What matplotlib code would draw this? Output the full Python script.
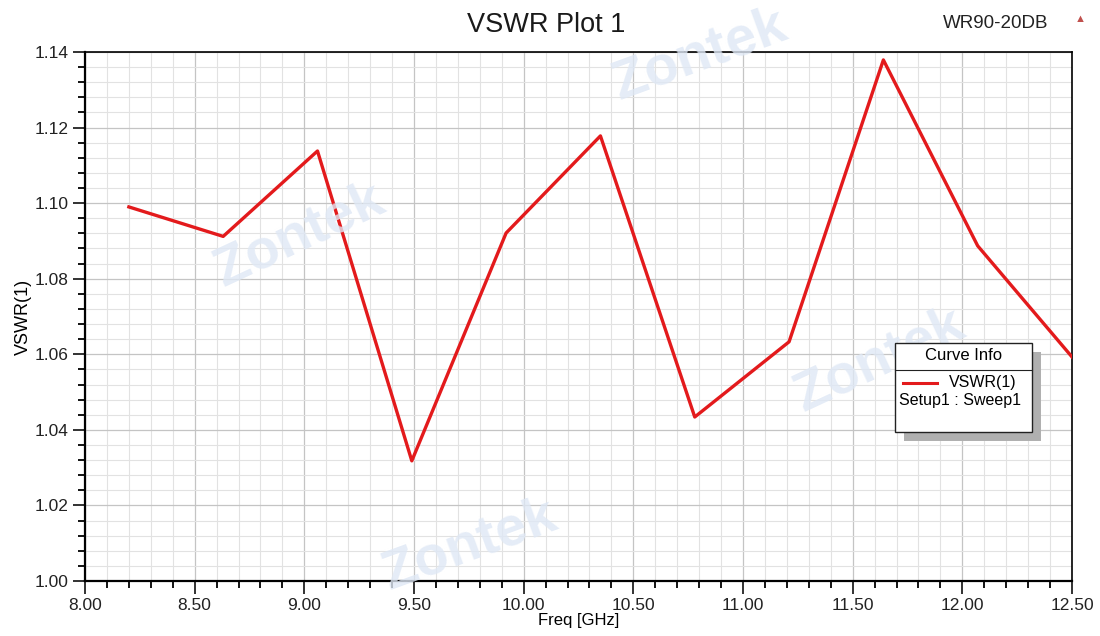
import numpy as np
import matplotlib.pyplot as plt
from matplotlib.ticker import MultipleLocator
from matplotlib.patches import Rectangle
from matplotlib.lines import Line2D

plt.rcParams['font.family'] = ['Liberation Sans', 'DejaVu Sans']

# Data
freq = [8.20, 8.63, 9.06, 9.49, 9.92, 10.35, 10.78, 11.21, 11.64, 12.07, 12.50]
vswr = [1.0990, 1.0912, 1.1138, 1.0318, 1.0921, 1.1178, 1.0434, 1.0633, 1.1379, 1.0887, 1.0593]
x_ticks = [8.0, 8.5, 9.0, 9.5, 10.0, 10.5, 11.0, 11.5, 12.0, 12.5]
y_ticks = [1.00, 1.02, 1.04, 1.06, 1.08, 1.10, 1.12, 1.14]

fig = plt.figure(figsize=(11, 6.36), dpi=100)
ax = fig.add_axes([85/1100, 1 - 581/636, (1072 - 85)/1100, (581 - 52)/636])

# faint watermarks
wm = dict(color='#dfe8f5', fontsize=40, fontweight='bold', alpha=0.8, zorder=0,
          ha='center', va='center')
for (x, y, r) in [(300, 235, 25), (700, 55, 20), (470, 545, 20), (880, 360, 25)]:
    fig.text(x/1100, 1 - y/636, "Zontek", rotation=r, **wm)

ax.set_facecolor('none')
ax.plot(freq, vswr, color='#e31a1c', lw=2.4, zorder=3)

ax.set_xlim(8.0, 12.5)
ax.set_ylim(1.00, 1.14)
ax.set_xticks(x_ticks)
ax.set_xticklabels([f"{v:.2f}" for v in x_ticks])
ax.set_yticks(y_ticks)
ax.set_yticklabels([f"{v:.2f}" for v in y_ticks])
ax.xaxis.set_minor_locator(MultipleLocator(0.1))
ax.yaxis.set_minor_locator(MultipleLocator(0.004))

ax.grid(which='major', color='#c4c4c4', lw=0.9)
ax.grid(which='minor', color='#e2e2e2', lw=0.8)
ax.set_axisbelow(True)

ax.tick_params(which='major', direction='out', length=9, width=1.3,
               labelsize=12.5, colors='#222222', pad=3)
ax.tick_params(which='minor', direction='out', length=5, width=1.3)
for s in ['left', 'bottom']:
    ax.spines[s].set_linewidth(1.6)
for s in ['top', 'right']:
    ax.spines[s].set_linewidth(1.2)

ax.set_xlabel("Freq [GHz]", fontsize=12, labelpad=0)
ax.set_ylabel("VSWR(1)", fontsize=13, labelpad=2)

fig.text(546/1100, 1 - 25/636, "VSWR Plot 1", fontsize=19.5, ha='center', va='center',
         color='#1a1a1a')
fig.text(1048/1100, 1 - 23/636, "WR90-20DB", fontsize=13.5, ha='right', va='center',
         color='#222222')
fig.text(1080/1100, 1 - 19/636, "\u25B2", fontsize=8, ha='center', va='center',
         color='#c0504d')

# Curve info box
bx, by, bw, bh = 895, 343, 137, 89
fig.patches.append(Rectangle(((bx + 9)/1100, 1 - (by + bh + 9)/636), bw/1100, bh/636,
                             transform=fig.transFigure, facecolor='#b0b0b0',
                             edgecolor='none', zorder=4))
fig.patches.append(Rectangle((bx/1100, 1 - (by + bh)/636), bw/1100, bh/636,
                             transform=fig.transFigure, facecolor='white',
                             edgecolor='#222222', lw=1.0, zorder=5))
fig.lines.append(Line2D([bx/1100, (bx + bw)/1100], [1 - 370/636, 1 - 370/636],
                        transform=fig.transFigure, color='#222222', lw=0.8, zorder=6))
fig.text((bx + bw/2)/1100, 1 - 356/636, "Curve Info", fontsize=12,
         ha='center', va='center', zorder=7)
fig.lines.append(Line2D([903/1100, 937/1100], [1 - 383/636, 1 - 383/636],
                        transform=fig.transFigure, color='#e31a1c', lw=2.2, zorder=6))
fig.text(949/1100, 1 - 383/636, "VSWR(1)", fontsize=11.5, ha='left', va='center', zorder=7)
fig.text(899/1100, 1 - 401/636, "Setup1 : Sweep1", fontsize=11.5, ha='left',
         va='center', zorder=7)

fig.savefig("out.png", dpi=100)
